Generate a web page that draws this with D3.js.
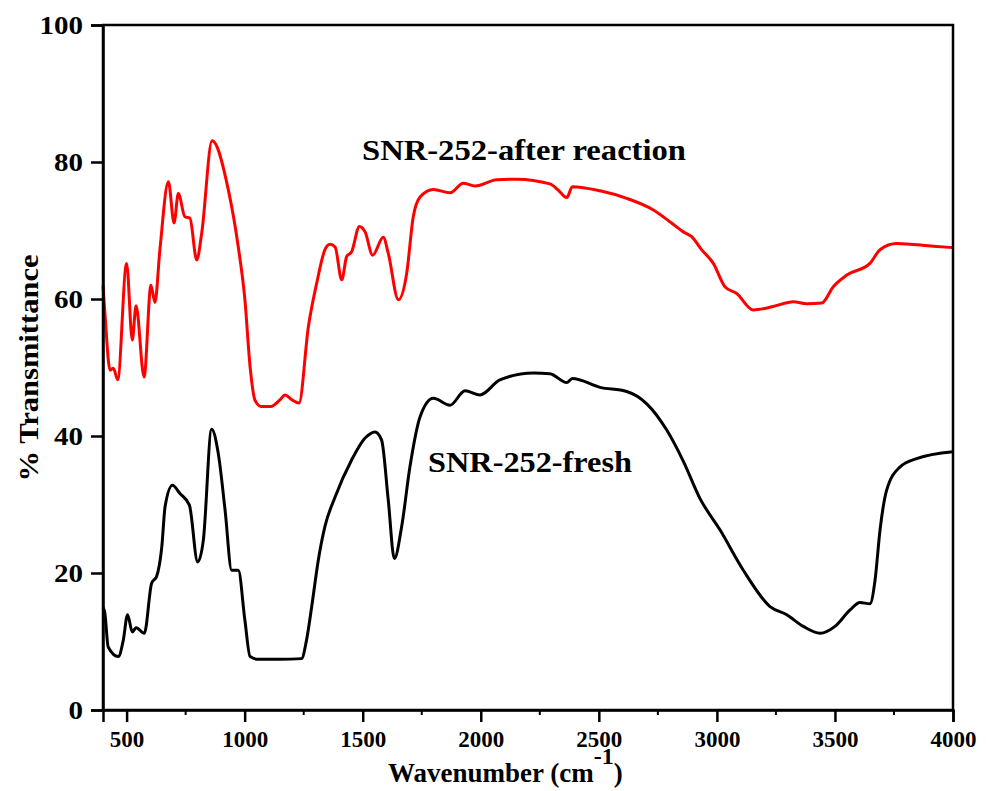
<!DOCTYPE html>
<html>
<head>
<meta charset="utf-8">
<script src="https://cdn.jsdelivr.net/npm/d3@7"></script>
<style>
  body { margin: 0; background: #fff; }
  text { font-family: "Liberation Serif", "Times New Roman", serif; font-weight: bold; fill: #000; }
</style>
</head>
<body>
<div id="chart"></div>
<script>
// FTIR spectra, values
var afterWn = [400, 408, 430, 444, 462, 500, 524, 540, 574, 603, 620, 641, 677, 701, 719, 747, 768, 797, 818, 862,
  931, 973, 1001, 1023, 1044, 1070, 1110, 1150, 1171, 1200, 1230, 1270, 1305, 1340, 1361, 1383, 1411, 1432, 1453, 1486,
  1510, 1542, 1587, 1608, 1651, 1686, 1714, 1743, 1799, 1870, 1926, 1976, 2067, 2152, 2293, 2328, 2364, 2388, 2505, 2618,
  2731, 2808, 2858, 2893, 2935, 2985, 3034, 3084, 3154, 3238, 3324, 3380, 3444, 3493, 3550, 3648, 3691, 3761, 3917, 4000];
var afterT = [62, 58, 49.6, 49.9, 48.2, 65.2, 54, 59, 48.6, 62, 59.5, 67.2, 77.1, 71.1, 75.4, 72, 71.8, 65.7, 69.6, 83.1,
  75.9, 67.6, 59.9, 50.1, 45.2, 44.3, 44.3, 45.3, 46, 45.3, 44.8, 56, 62.3, 67.2, 68, 67.6, 62.8, 66.2, 66.9, 70.6,
  69.8, 66.4, 69, 66.7, 59.9, 63.7, 72, 74.9, 76, 75.5, 76.9, 76.5, 77.4, 77.5, 76.8, 75.9, 74.8, 76.4, 75.8, 74.7,
  73, 71.1, 69.8, 69.1, 67.2, 65.2, 61.8, 60.8, 58.4, 58.9, 59.6, 59.3, 59.4, 61.8, 63.5, 65.2, 67.2, 68.1, 67.7, 67.5];

var freshWn = [400, 408, 422, 465, 486, 504, 524, 540, 575, 606, 627, 649, 663, 694, 726, 766, 801, 825, 860, 888,
  917, 945, 973, 1001, 1023, 1058, 1150, 1241, 1262, 1284, 1312, 1340, 1383, 1453, 1510, 1552, 1580, 1608, 1634, 1665,
  1700, 1743, 1799, 1870, 1933, 1997, 2081, 2223, 2293, 2364, 2388, 2505, 2618, 2703, 2787, 2858, 2928, 3013, 3112, 3225,
  3296, 3366, 3437, 3500, 3564, 3606, 3648, 3670, 3691, 3719, 3776, 3846, 4000];
var freshT = [15, 14.1, 9.2, 7.8, 10.2, 13.9, 11.4, 12, 11.2, 18.5, 19.5, 23.8, 29.7, 32.8, 31.6, 29.9, 21.6, 24.8, 41, 37.5,
  29.2, 20.4, 20.4, 13.1, 7.8, 7.4, 7.4, 7.5, 10.2, 15.1, 21.9, 26.8, 31.1, 36.5, 39.7, 40.6, 39.4, 30.7, 22.1, 26.8,
  35.5, 42.8, 45.5, 44.5, 46.6, 46, 48.2, 49.2, 49.1, 47.8, 48.4, 47.1, 46.5, 44.7, 40.9, 36.3, 30.9, 26.3, 20.4, 15.1,
  13.9, 12.2, 11.2, 12.2, 14.6, 15.7, 15.5, 19, 26.3, 32.1, 35.5, 36.7, 37.7];

var xTicks = [500, 1000, 1500, 2000, 2500, 3000, 3500, 4000];
var xMinor = [750, 1250, 1750, 2250, 2750, 3250, 3750];
var yTicks = [0, 20, 40, 60, 80, 100];

var w = 986,
  h = 791,
  margin = {top: 25, right: 33, bottom: 81, left: 103};

var svg = d3.select("#chart")
  .append("svg")
  .attr("width", w)
  .attr("height", h);

var xscale = d3.scaleLinear().domain([400, 4000]).range([margin.left, w - margin.right]);
var yscale = d3.scaleLinear().domain([0, 100]).range([h - margin.bottom, margin.top]);

var line = d3.line()
  .x(function(d) { return xscale(d[0]); })
  .y(function(d) { return yscale(d[1]); })
  .curve(d3.curveMonotoneX);

var afterData = afterWn.map(function(v, i) { return [v, afterT[i]]; });
var freshData = freshWn.map(function(v, i) { return [v, freshT[i]]; });

svg.append("path").datum(afterData)
  .attr("d", line)
  .attr("fill", "none")
  .attr("stroke", "#ff0000")
  .attr("stroke-width", 3);

svg.append("path").datum(freshData)
  .attr("d", line)
  .attr("fill", "none")
  .attr("stroke", "#000")
  .attr("stroke-width", 3);

// frame
svg.append("rect")
  .attr("x", margin.left).attr("y", margin.top)
  .attr("width", w - margin.left - margin.right)
  .attr("height", h - margin.top - margin.bottom)
  .attr("fill", "none")
  .attr("stroke", "#000")
  .attr("stroke-width", 2.5);

// axes
var xaxis = d3.axisBottom(xscale).tickValues(xTicks).tickSize(12).tickPadding(8).tickFormat(d3.format("d"));
var yaxis = d3.axisLeft(yscale).tickValues(yTicks).tickSize(12).tickPadding(8).tickFormat(d3.format("d"));

var gx = svg.append("g").attr("class", "axis x")
  .attr("transform", "translate(0," + (h - margin.bottom) + ")")
  .call(xaxis);
gx.selectAll("text")
  .attr("font-size", 24)
  .attr("textLength", function(d) { return String(d).length * 11.5; })
  .attr("lengthAdjust", "spacingAndGlyphs");

gx.selectAll(".minor").data(xMinor).enter().append("line")
  .attr("class", "minor")
  .attr("x1", function(d) { return xscale(d); })
  .attr("x2", function(d) { return xscale(d); })
  .attr("y1", 0).attr("y2", 5)
  .attr("stroke", "#000").attr("stroke-width", 2);

var gy = svg.append("g").attr("class", "axis y")
  .attr("transform", "translate(" + margin.left + ",0)")
  .call(yaxis);
gy.selectAll("text")
  .attr("font-size", 25)
  .attr("textLength", function(d) { return String(d).length * 14.5; })
  .attr("lengthAdjust", "spacingAndGlyphs");

svg.selectAll(".axis path").attr("stroke-width", 2.5);
svg.selectAll(".axis .tick line").attr("stroke-width", 2.5);

// axis titles
var xt = svg.append("text")
  .attr("x", 388).attr("y", 782)
  .attr("font-size", 27);
xt.append("tspan").text("Wavenumber (cm");
xt.append("tspan").attr("dy", -18).attr("font-size", 24).text("-1");
xt.append("tspan").attr("dy", 18).text(")");

svg.append("text")
  .attr("transform", "translate(38,368) rotate(-90)")
  .attr("text-anchor", "middle")
  .attr("font-size", 28)
  .attr("textLength", 227)
  .attr("lengthAdjust", "spacingAndGlyphs")
  .text("% Transmittance");

// series labels
svg.append("text")
  .attr("x", 362).attr("y", 160)
  .attr("font-size", 29)
  .attr("textLength", 324)
  .attr("lengthAdjust", "spacingAndGlyphs")
  .text("SNR-252-after reaction");

svg.append("text")
  .attr("x", 428).attr("y", 472)
  .attr("font-size", 30)
  .attr("textLength", 204)
  .attr("lengthAdjust", "spacingAndGlyphs")
  .text("SNR-252-fresh");
</script>
</body>
</html>
